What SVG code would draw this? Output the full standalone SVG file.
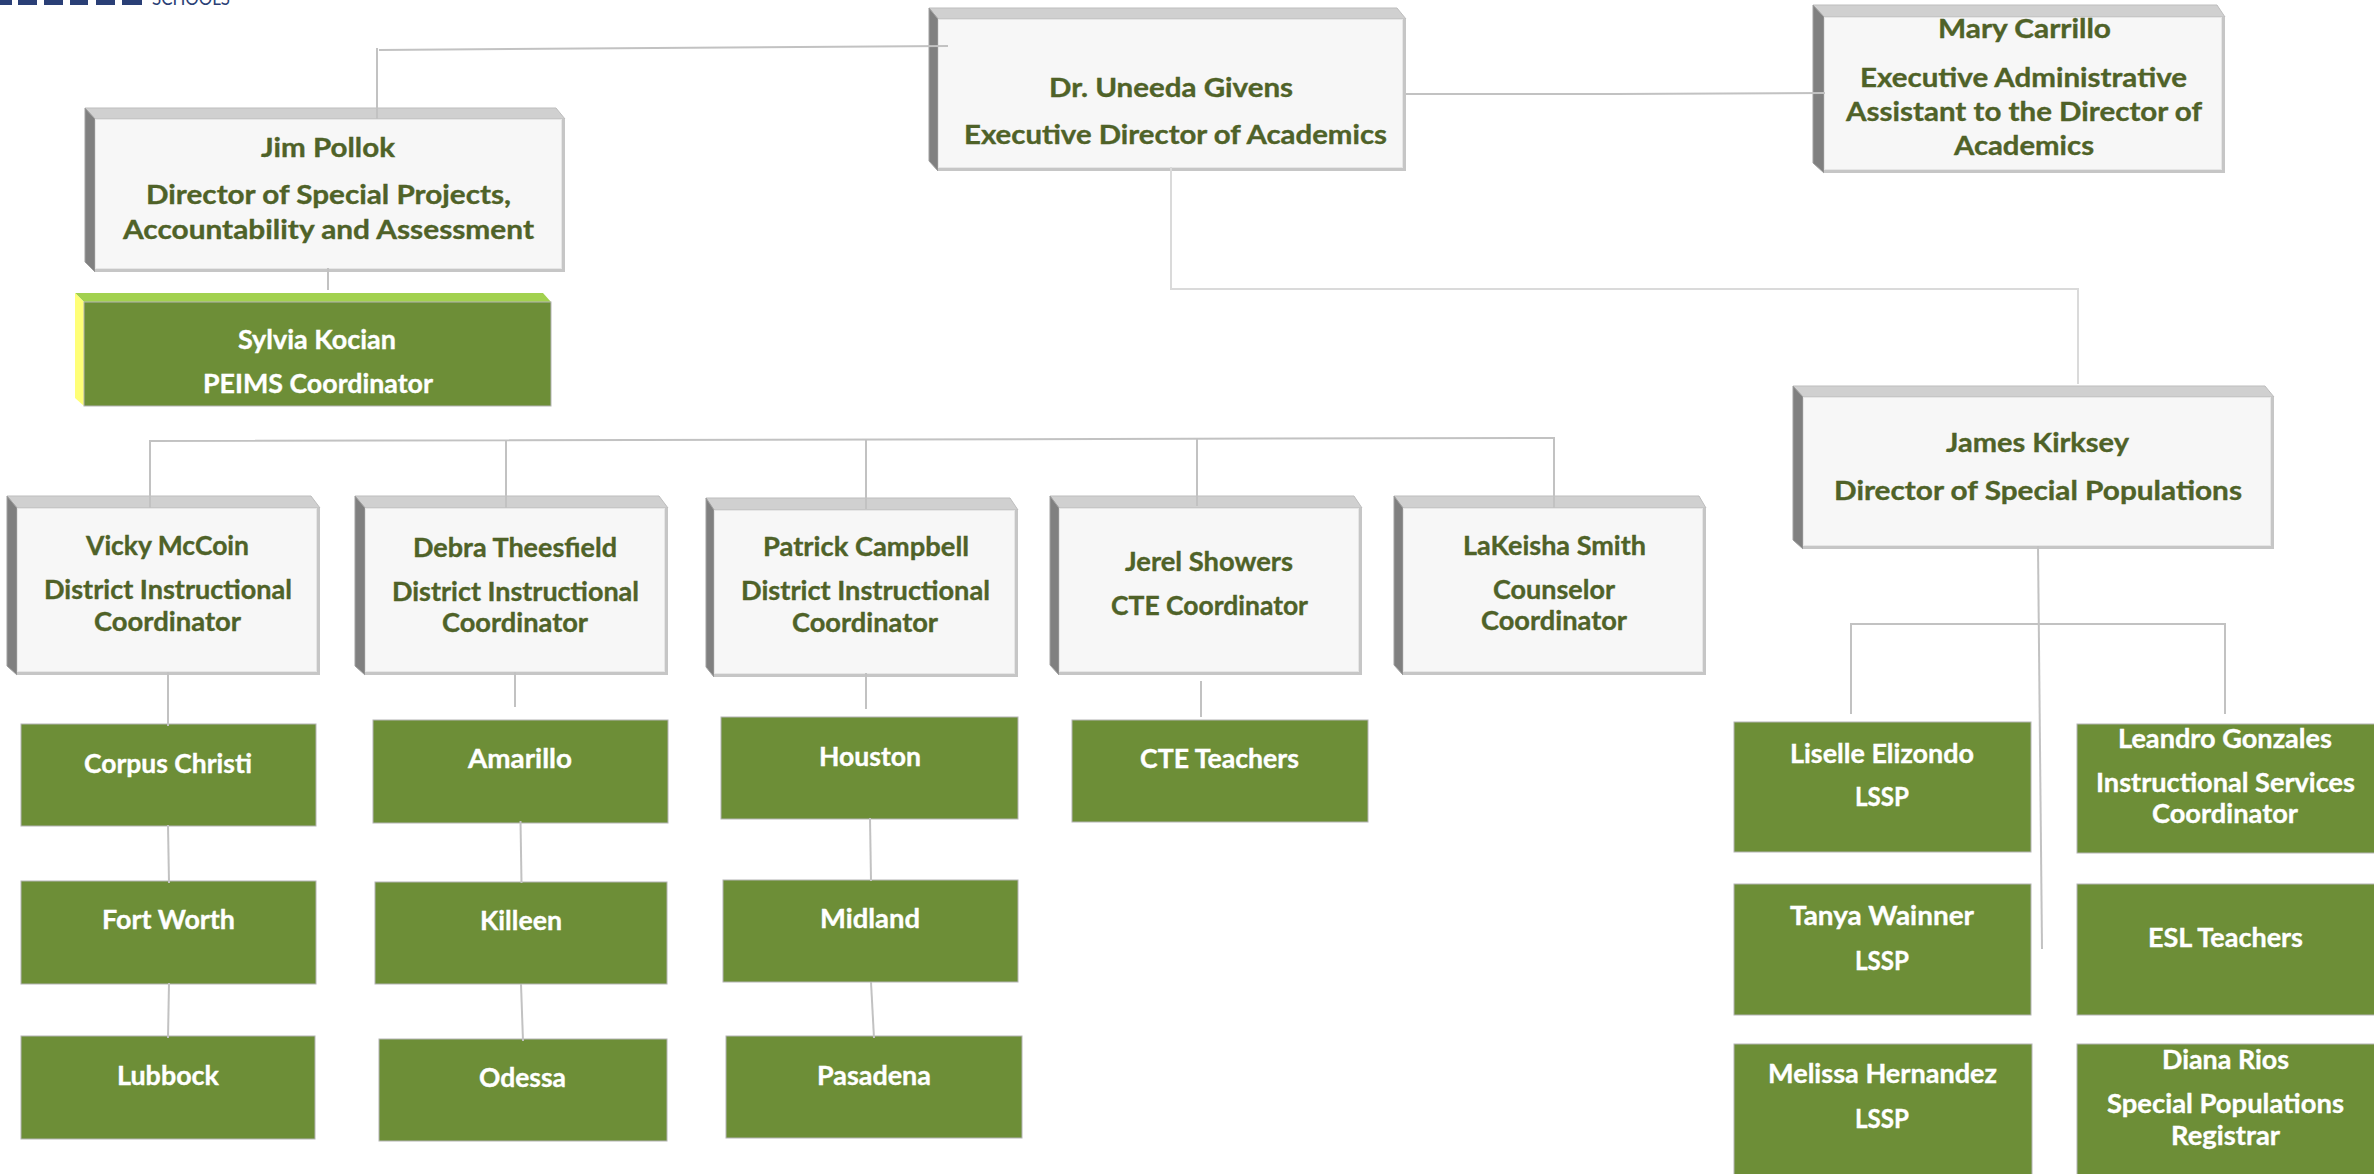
<svg xmlns="http://www.w3.org/2000/svg" width="2374" height="1174" viewBox="0 0 2374 1174">
<style>
text{font-family:"Lato","Carlito","Liberation Sans",sans-serif;font-weight:700;font-size:26px}
.d text{fill:#4f6228;stroke:#4f6228;stroke-width:.35}
.g text{fill:#fff;stroke:#fff;stroke-width:.35}
.f{fill:#c6c6c6}
.i{fill:#f7f7f7;stroke:#e6e6e6;stroke-width:1}
.t{fill:#d0d0d0;stroke:#bdbdbd;stroke-width:1}
.l{fill:#808080;stroke:#a0a0a0;stroke-width:1}
.g rect{fill:#6d8e37;stroke:#b4b4b4;stroke-width:1}
#connectors path{fill:none;stroke:#c2c2c2;stroke-width:2}
#connectors path.n{stroke:#dadada}
</style>
<rect width="2374" height="1174" fill="#fff"/>
<g id="logo" fill="#2a3f76">
<rect x="0" y="0" width="12" height="5"/><rect x="18" y="0" width="19" height="5"/><rect x="44" y="0" width="19" height="5"/><rect x="70" y="0" width="18" height="5"/><rect x="96" y="0" width="19" height="5"/><rect x="122" y="0" width="20" height="5"/>
<text x="152" y="5" textLength="78" lengthAdjust="spacingAndGlyphs" style="font-size:19px;font-weight:400;fill:#2a3f76">SCHOOLS</text>
</g>
<g id="exec" class="d">
<polygon class="t" points="929,8 1397,8 1406,19 938,19"/><polygon class="l" points="929,8 938,19 938,171 929,161"/><rect class="f" x="938" y="19" width="468" height="152"/><rect class="i" x="938.5" y="19.5" width="464" height="148"/>
<text x="1049" y="97" textLength="244" lengthAdjust="spacingAndGlyphs">Dr. Uneeda Givens</text>
<text x="964" y="144" textLength="423" lengthAdjust="spacingAndGlyphs">Executive Director of Academics</text>
</g>
<g id="mary" class="d">
<polygon class="t" points="1813,5 2217,5 2225,17 1824,17"/><polygon class="l" points="1813,5 1824,17 1824,173 1813,163"/><rect class="f" x="1824" y="17" width="401" height="156"/><rect class="i" x="1824.5" y="17.5" width="397" height="152"/>
<text x="1938" y="38" textLength="173" lengthAdjust="spacingAndGlyphs">Mary Carrillo</text>
<text x="1860" y="87" textLength="327" lengthAdjust="spacingAndGlyphs">Executive Administrative</text>
<text x="1846" y="121" textLength="356" lengthAdjust="spacingAndGlyphs">Assistant to the Director of</text>
<text x="1954" y="155" textLength="140" lengthAdjust="spacingAndGlyphs">Academics</text>
</g>
<g id="jim" class="d">
<polygon class="t" points="85,108 556,108 565,119 95,119"/><polygon class="l" points="85,108 95,119 95,272 85,262"/><rect class="f" x="95" y="119" width="470" height="153"/><rect class="i" x="95.5" y="119.5" width="466" height="149"/>
<text x="261" y="157" textLength="134" lengthAdjust="spacingAndGlyphs">Jim Pollok</text>
<text x="146" y="204" textLength="365" lengthAdjust="spacingAndGlyphs">Director of Special Projects,</text>
<text x="123" y="239" textLength="411" lengthAdjust="spacingAndGlyphs">Accountability and Assessment</text>
</g>
<g id="sylvia" class="g">
<polygon points="75,293 543,293 551,302 84,302" fill="#a2d14f"/><polygon points="75,293 84,302 84,406 75,398" fill="#ffff77"/><rect x="84" y="302" width="467" height="104"/>
<text x="238" y="349" textLength="158" lengthAdjust="spacingAndGlyphs">Sylvia Kocian</text>
<text x="203" y="393" textLength="230" lengthAdjust="spacingAndGlyphs">PEIMS Coordinator</text>
</g>
<g id="james" class="d">
<polygon class="t" points="1793,386 2265,386 2274,397 1803,397"/><polygon class="l" points="1793,386 1803,397 1803,549 1793,540"/><rect class="f" x="1803" y="397" width="471" height="152"/><rect class="i" x="1803.5" y="397.5" width="467" height="148"/>
<text x="1946" y="452" textLength="183" lengthAdjust="spacingAndGlyphs">James Kirksey</text>
<text x="1834" y="500" textLength="408" lengthAdjust="spacingAndGlyphs">Director of Special Populations</text>
</g>
<g id="vicky" class="d">
<polygon class="t" points="7,496 311,496 320,508 17,508"/><polygon class="l" points="7,496 17,508 17,675 7,666"/><rect class="f" x="17" y="508" width="303" height="167"/><rect class="i" x="17.5" y="508.5" width="299" height="163"/>
<text x="86" y="555" textLength="163" lengthAdjust="spacingAndGlyphs">Vicky McCoin</text>
<text x="44" y="599" textLength="248" lengthAdjust="spacingAndGlyphs">District Instructional</text>
<text x="94" y="631" textLength="147" lengthAdjust="spacingAndGlyphs">Coordinator</text>
</g>
<g id="debra" class="d">
<polygon class="t" points="355,496 659,496 668,508 365,508"/><polygon class="l" points="355,496 365,508 365,675 355,666"/><rect class="f" x="365" y="508" width="303" height="167"/><rect class="i" x="365.5" y="508.5" width="299" height="163"/>
<text x="413" y="557" textLength="204" lengthAdjust="spacingAndGlyphs">Debra Theesfield</text>
<text x="392" y="601" textLength="247" lengthAdjust="spacingAndGlyphs">District Instructional</text>
<text x="442" y="632" textLength="146" lengthAdjust="spacingAndGlyphs">Coordinator</text>
</g>
<g id="patrick" class="d">
<polygon class="t" points="706,498 1010,498 1018,510 714,510"/><polygon class="l" points="706,498 714,510 714,677 706,667"/><rect class="f" x="714" y="510" width="304" height="167"/><rect class="i" x="714.5" y="510.5" width="300" height="163"/>
<text x="763" y="556" textLength="206" lengthAdjust="spacingAndGlyphs">Patrick Campbell</text>
<text x="741" y="600" textLength="249" lengthAdjust="spacingAndGlyphs">District Instructional</text>
<text x="792" y="632" textLength="146" lengthAdjust="spacingAndGlyphs">Coordinator</text>
</g>
<g id="jerel" class="d">
<polygon class="t" points="1050,496 1354,496 1362,508 1059,508"/><polygon class="l" points="1050,496 1059,508 1059,675 1050,665"/><rect class="f" x="1059" y="508" width="303" height="167"/><rect class="i" x="1059.5" y="508.5" width="299" height="163"/>
<text x="1125" y="571" textLength="168" lengthAdjust="spacingAndGlyphs">Jerel Showers</text>
<text x="1111" y="615" textLength="197" lengthAdjust="spacingAndGlyphs">CTE Coordinator</text>
</g>
<g id="lakeisha" class="d">
<polygon class="t" points="1394,496 1699,496 1706,508 1403,508"/><polygon class="l" points="1394,496 1403,508 1403,675 1394,665"/><rect class="f" x="1403" y="508" width="303" height="167"/><rect class="i" x="1403.5" y="508.5" width="299" height="163"/>
<text x="1463" y="555" textLength="183" lengthAdjust="spacingAndGlyphs">LaKeisha Smith</text>
<text x="1493" y="599" textLength="122" lengthAdjust="spacingAndGlyphs">Counselor</text>
<text x="1481" y="630" textLength="146" lengthAdjust="spacingAndGlyphs">Coordinator</text>
</g>
<g id="corpus" class="g"><rect x="21" y="724" width="295" height="102"/><text x="84" y="773" textLength="168" lengthAdjust="spacingAndGlyphs">Corpus Christi</text></g>
<g id="fortworth" class="g"><rect x="21" y="881" width="295" height="103"/><text x="102" y="929" textLength="133" lengthAdjust="spacingAndGlyphs">Fort Worth</text></g>
<g id="lubbock" class="g"><rect x="21" y="1036" width="294" height="103"/><text x="117" y="1085" textLength="102" lengthAdjust="spacingAndGlyphs">Lubbock</text></g>
<g id="amarillo" class="g"><rect x="373" y="720" width="295" height="103"/><text x="468" y="768" textLength="104" lengthAdjust="spacingAndGlyphs">Amarillo</text></g>
<g id="killeen" class="g"><rect x="375" y="882" width="292" height="102"/><text x="480" y="930" textLength="82" lengthAdjust="spacingAndGlyphs">Killeen</text></g>
<g id="odessa" class="g"><rect x="379" y="1039" width="288" height="102"/><text x="479" y="1087" textLength="87" lengthAdjust="spacingAndGlyphs">Odessa</text></g>
<g id="houston" class="g"><rect x="721" y="717" width="297" height="102"/><text x="819" y="766" textLength="102" lengthAdjust="spacingAndGlyphs">Houston</text></g>
<g id="midland" class="g"><rect x="723" y="880" width="295" height="102"/><text x="820" y="928" textLength="100" lengthAdjust="spacingAndGlyphs">Midland</text></g>
<g id="pasadena" class="g"><rect x="726" y="1036" width="296" height="102"/><text x="817" y="1085" textLength="114" lengthAdjust="spacingAndGlyphs">Pasadena</text></g>
<g id="cte" class="g"><rect x="1072" y="720" width="296" height="102"/><text x="1140" y="768" textLength="159" lengthAdjust="spacingAndGlyphs">CTE Teachers</text></g>
<g id="liselle" class="g"><rect x="1734" y="722" width="297" height="130"/><text x="1790" y="763" textLength="184" lengthAdjust="spacingAndGlyphs">Liselle Elizondo</text><text x="1855" y="806" textLength="54" lengthAdjust="spacingAndGlyphs">LSSP</text></g>
<g id="tanya" class="g"><rect x="1734" y="884" width="297" height="131"/><text x="1790" y="925" textLength="184" lengthAdjust="spacingAndGlyphs">Tanya Wainner</text><text x="1855" y="970" textLength="54" lengthAdjust="spacingAndGlyphs">LSSP</text></g>
<g id="melissa" class="g"><rect x="1734" y="1044" width="298" height="140"/><text x="1768" y="1083" textLength="229" lengthAdjust="spacingAndGlyphs">Melissa Hernandez</text><text x="1855" y="1128" textLength="54" lengthAdjust="spacingAndGlyphs">LSSP</text></g>
<g id="leandro" class="g"><rect x="2077" y="724" width="307" height="129"/><text x="2118" y="748" textLength="214" lengthAdjust="spacingAndGlyphs">Leandro Gonzales</text><text x="2096" y="792" textLength="259" lengthAdjust="spacingAndGlyphs">Instructional Services</text><text x="2152" y="823" textLength="146" lengthAdjust="spacingAndGlyphs">Coordinator</text></g>
<g id="esl" class="g"><rect x="2077" y="884" width="307" height="131"/><text x="2148" y="947" textLength="155" lengthAdjust="spacingAndGlyphs">ESL Teachers</text></g>
<g id="diana" class="g"><rect x="2077" y="1044" width="307" height="140"/><text x="2162" y="1069" textLength="127" lengthAdjust="spacingAndGlyphs">Diana Rios</text><text x="2107" y="1113" textLength="237" lengthAdjust="spacingAndGlyphs">Special Populations</text><text x="2171" y="1145" textLength="109" lengthAdjust="spacingAndGlyphs">Registrar</text></g>
<g id="connectors">
<path d="M379 50L948 46"/><path d="M377 48V119"/>
<path d="M328 268V290"/>
<path d="M1406 94H1614L1825 93"/>
<path class="n" d="M1171 167V289H2078V384"/>
<path d="M150 508V441L1554 438V508"/>
<path d="M506 441V508"/><path d="M866 440V509"/><path d="M1197 438V506"/>
<path d="M168 672V726"/><path d="M168 825L169 883"/><path d="M169 983L168 1038"/>
<path d="M515 672V707"/><path d="M520.5 821L521.5 883"/><path d="M521 984L523 1041"/>
<path d="M866 673V709"/><path d="M870 818L871 881"/><path d="M871 982L874 1038"/>
<path d="M1201 681V717"/>
<path d="M2038 546L2042 949"/><path d="M1851 714V624H2225V714"/>
</g>
</svg>
